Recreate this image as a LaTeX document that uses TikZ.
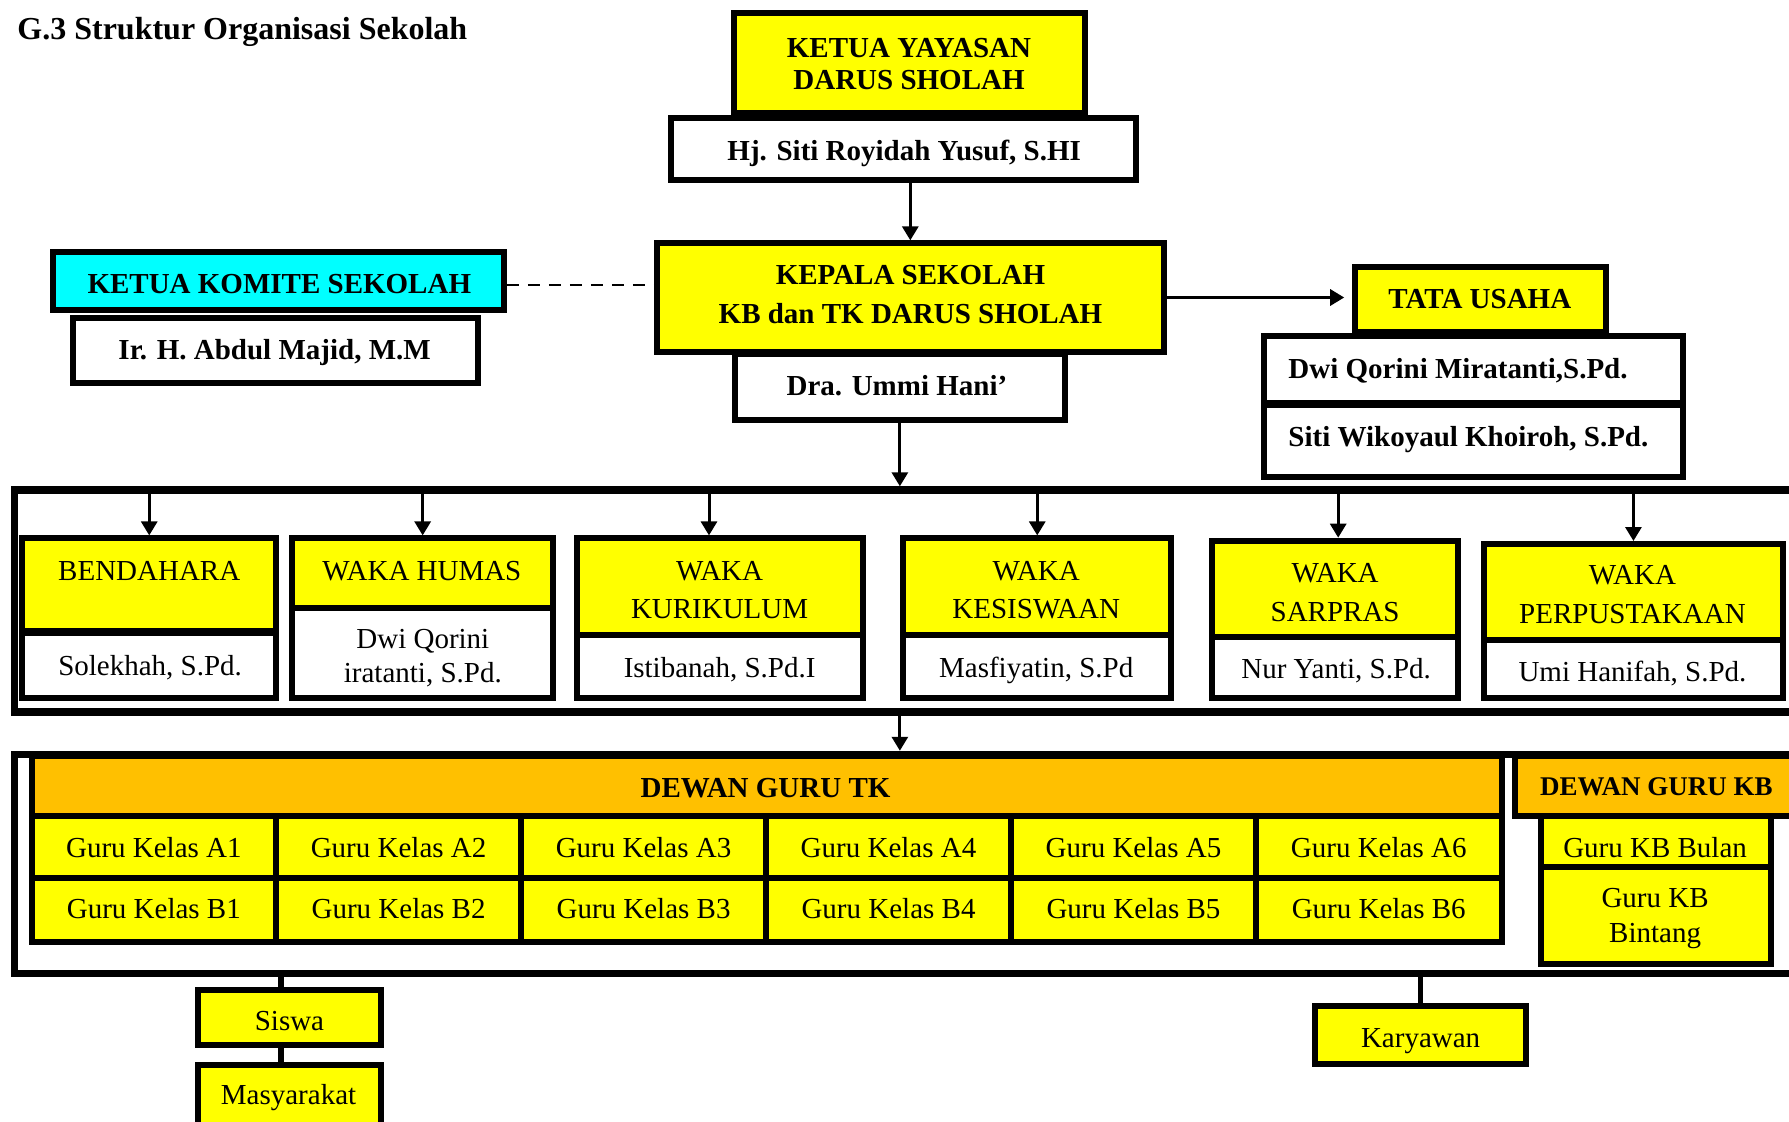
\documentclass[tikz,border=0pt]{standalone}
\usepackage{fontspec}
\setmainfont{Liberation Serif}
\usetikzlibrary{fit,arrows.meta}
\definecolor{yel}{HTML}{FFFF00}
\definecolor{cyn}{HTML}{00FFFF}
\definecolor{org}{HTML}{FFC000}
\tikzset{
  bx/.style={draw=black, line width=6pt, inner sep=0pt},
  frm/.style={draw=black, line width=7.5pt, inner sep=0pt},
  tn/.style={inner sep=0pt, anchor=base, yshift=-2.2pt, font=\fontsize{29}{34}\selectfont},
  tb/.style={inner sep=0pt, anchor=base, yshift=-2.2pt, font=\fontsize{29}{34}\selectfont\bfseries},
  conn/.style={line width=3pt, -{Triangle[length=14pt,width=16pt]}},
  link/.style={line width=5.5pt},
  dsh/.style={line width=2.5pt, dash pattern=on 12pt off 9pt},
}
\begin{document}
\begin{tikzpicture}[x=1.141pt, y=-1.141pt]
\useasboundingbox (0,0) rectangle (1568,983);
\clip (0,0) rectangle (1568,983);
\fill[white] (0,0) rectangle (1568,983);

% title
\node[inner sep=0pt, anchor=base west, font=\fontsize{32}{36}\selectfont\bfseries] (title) at (15.1,34.5) {G.3 Struktur Organisasi Sekolah};

% top boxes
\node[bx, fill=yel, fit={(643,11.8) (950.6,99.3)}] (ky) {};
\node[bx, fill=white, fit={(587.8,103.8) (995.9,157.7)}] (hj) {};
\node[bx, fill=yel, fit={(575.7,213.3) (1020,308.2)}] (kepala) {};
\node[bx, fill=white, fit={(644.4,310.3) (933,368)}] (dra) {};
\node[bx, fill=cyn, fit={(46.8,220.6) (441.6,272)}] (komite) {};
\node[bx, fill=white, fit={(64.2,278.5) (418.7,335.3)}] (ir) {};
\node[bx, fill=yel, fit={(1187.8,233.8) (1407.9,290.6)}] (tu) {};
\node[bx, fill=white, fit={(1108.1,294.5) (1475,353.3)}] (dwi) {};
\node[bx, fill=white, fit={(1108.1,355.2) (1475,417.7)}] (siti) {};

% frame 1 and waka boxes
\node[frm, fit={(12.7,429.5) (1700,624)}] (wframe) {};
\node[bx, fill=yel, fit={(19.4,471.9) (242.2,552.7)}] (bendy) {};
\node[bx, fill=white, fit={(19.4,555.1) (242.2,612)}] (bendw) {};
\node[bx, fill=yel, fit={(256.1,471.9) (484.8,532.7)}] (humy) {};
\node[bx, fill=white, fit={(256.1,532.7) (484.8,612)}] (humw) {};
\node[bx, fill=yel, fit={(505.7,471.9) (756.4,556.5)}] (kury) {};
\node[bx, fill=white, fit={(505.7,556.5) (756.4,612)}] (kurw) {};
\node[bx, fill=yel, fit={(791.8,471.9) (1026.4,556.5)}] (kesy) {};
\node[bx, fill=white, fit={(791.8,556.5) (1026.4,612)}] (kesw) {};
\node[bx, fill=yel, fit={(1062.6,473.9) (1277.9,558.3)}] (sary) {};
\node[bx, fill=white, fit={(1062.6,558.3) (1277.9,612)}] (sarw) {};
\node[bx, fill=yel, fit={(1300.6,476.8) (1562.7,561.2)}] (pery) {};
\node[bx, fill=white, fit={(1300.6,561.2) (1562.7,612)}] (perw) {};

% frame 2
\node[frm, fit={(12.7,661.3) (1700,853.2)}] (gframe) {};
\node[bx, fill=org, fit={(27.7,663) (1316,715.3)}] (tkh) {};
\node[bx, fill=org, fit={(1327.4,663) (1700,715.3)}] (kbh) {};
\foreach \i/\xa/\xb in {1/27.7/242, 2/242/456.7, 3/456.7/671.4, 4/671.4/886.1, 5/886.1/1100.8, 6/1100.8/1316} {
  \node[bx, fill=yel, fit={(\xa,715.3) (\xb,769.4)}] (a\i) {};
  \node[bx, fill=yel, fit={(\xa,769.4) (\xb,825.3)}] (b\i) {};
  \node[tn] (ta\i) at (a\i.center |- 0,749.3) {Guru Kelas A\i};
  \node[tn] (tb\i) at (b\i.center |- 0,803.4) {Guru Kelas B\i};
}
\node[bx, fill=yel, fit={(1350.7,715.3) (1552.2,759.6)}] (bulan) {};
\node[bx, fill=yel, fit={(1350.7,759.6) (1552.2,845)}] (bintang) {};

% bottom boxes
\node[bx, fill=yel, fit={(173.7,867.9) (333.8,916.1)}] (siswa) {};
\node[bx, fill=yel, fit={(173.7,933.1) (333.8,1000)}] (masy) {};
\node[bx, fill=yel, fit={(1152.4,882) (1337.9,932.3)}] (kary) {};

% connectors
\draw[conn] (kepala.north |- hj.south) -- (kepala.north);
\path (komite.east) ++(0,3.5) coordinate (dA);
\draw[dsh] (dA) -- (dA -| kepala.west);
\draw[conn, shorten >=8pt] (kepala.east) -- (kepala.east -| tu.west);
\draw[conn] (dra.south) -- (dra.south |- wframe.north);
\draw[conn] (bendy.north |- wframe.north) -- (bendy.north);
\draw[conn] (humy.north |- wframe.north) -- (humy.north);
\draw[conn] ([xshift=-11pt]kury.north |- wframe.north) -- ([xshift=-11pt]kury.north);
\draw[conn] (kesy.north |- wframe.north) -- (kesy.north);
\draw[conn] ([xshift=3pt]sary.north |- wframe.north) -- ([xshift=3pt]sary.north);
\draw[conn] (pery.north |- wframe.north) -- (pery.north);
\draw[conn] (dra.south |- wframe.south) -- (dra.south |- gframe.north);
\coordinate (sx) at (246.5,0);
\draw[link] (sx |- gframe.south) -- (sx |- siswa.north);
\draw[link] (sx |- siswa.south) -- (sx |- masy.north);
\draw[link] (kary.north |- gframe.south) -- (kary.north);

% texts
\node[tb] (t-ky1) at (796.7,48.2) {KETUA YAYASAN};
\node[tb] (t-ky2) at (796.7,76.5) {DARUS SHOLAH};
\node[tb] (t-hj) at (792.5,138.8) {Hj. Siti Royidah Yusuf, S.HI};
\node[tb] (t-kp1) at (798,247.7) {KEPALA SEKOLAH};
\node[tb] (t-kp2) at (798,281.9) {KB dan TK DARUS SHOLAH};
\node[tb] (t-dra) at (786.1,344.7) {Dra. Ummi Hani’};
\node[tb] (t-kom) at (244.8,255.6) {KETUA KOMITE SEKOLAH};
\node[tb] (t-ir) at (240.7,313.2) {Ir. H. Abdul Majid, M.M};
\node[tb] (t-tu) at (1297,268.8) {TATA USAHA};
\node[tb, anchor=base west] (t-dwi) at (1129.1,329.5) {Dwi Qorini Miratanti,S.Pd.};
\node[tb, anchor=base west] (t-siti) at (1129.1,389.1) {Siti Wikoyaul Khoiroh, S.Pd.};

\node[tn] (t-b1) at (130.8,506.9) {BENDAHARA};
\node[tn] (t-b2) at (131.6,590.1) {Solekhah, S.Pd.};
\node[tn] (t-h1) at (369.8,506.9) {WAKA HUMAS};
\node[tn] (t-h2) at (370.6,566.8) {Dwi Qorini};
\node[tn] (t-h3) at (370.6,596) {iratanti, S.Pd.};
\node[tn] (t-k1) at (630.7,506.9) {WAKA};
\node[tn] (t-k2) at (630.7,540.5) {KURIKULUM};
\node[tn] (t-k3) at (630.7,591.6) {Istibanah, S.Pd.I};
\node[tn] (t-s1) at (908.2,506.9) {WAKA};
\node[tn] (t-s2) at (908.2,540.5) {KESISWAAN};
\node[tn] (t-s3) at (908.2,591.6) {Masfiyatin, S.Pd};
\node[tn] (t-r1) at (1170.2,508.3) {WAKA};
\node[tn] (t-r2) at (1170.2,542.5) {SARPRAS};
\node[tn] (t-r3) at (1171.1,593.1) {Nur Yanti, S.Pd.};
\node[tn] (t-p1) at (1430.8,510.7) {WAKA};
\node[tn] (t-p2) at (1430.8,544.8) {PERPUSTAKAAN};
\node[tn] (t-p3) at (1430.8,595.4) {Umi Hanifah, S.Pd.};

\node[tb] (t-tk) at (671,696.8) {DEWAN GURU TK};
\node[tb, font=\fontsize{27}{32}\selectfont\bfseries] (t-kb) at (1451.7,695.3) {DEWAN GURU KB};
\node[tn] (t-bl) at (1450.6,749.3) {Guru KB Bulan};
\node[tn] (t-bt1) at (1450.6,793.2) {Guru KB};
\node[tn] (t-bt2) at (1450.6,823.8) {Bintang};

\node[tn] (t-sw) at (253.7,901.2) {Siswa};
\node[tn] (t-ms) at (252.9,966.4) {Masyarakat};
\node[tn] (t-ky) at (1245.1,915.9) {Karyawan};
\end{tikzpicture}
\end{document}
